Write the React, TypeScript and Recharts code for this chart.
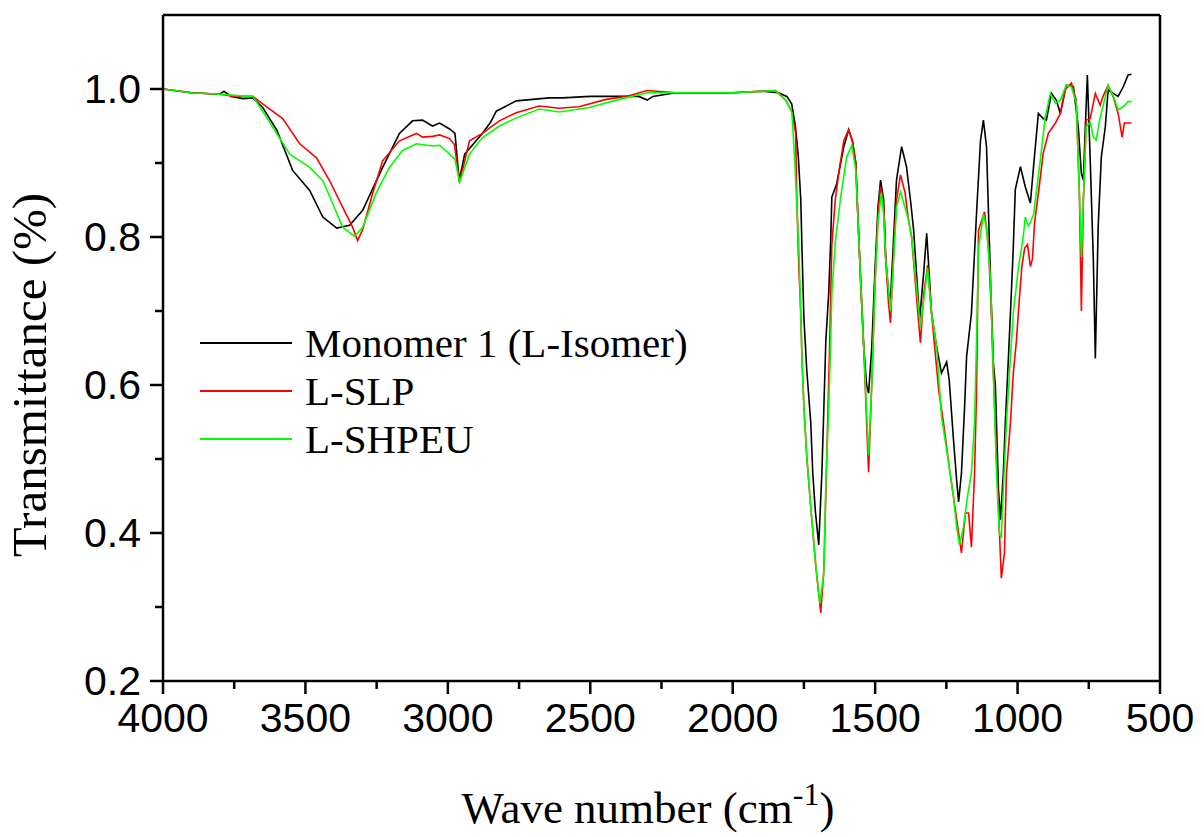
import { LineChart, Line, XAxis, YAxis, Legend, ReferenceLine } from "recharts"

// FTIR spectra, [wave number (cm-1), transmittance]
const MONOMER: [number, number][] = [
  [4000, 1.0], [3900, 0.995], [3800, 0.993], [3786, 0.997], [3760, 0.99], [3720, 0.987],
  [3685, 0.988], [3650, 0.975], [3600, 0.944], [3545, 0.89], [3485, 0.863], [3439, 0.827],
  [3390, 0.812], [3345, 0.816], [3299, 0.836], [3229, 0.894], [3170, 0.94], [3124, 0.957],
  [3089, 0.958], [3054, 0.95], [3029, 0.954], [2994, 0.946], [2975, 0.94], [2960, 0.876],
  [2941, 0.912], [2879, 0.94], [2850, 0.955], [2830, 0.97], [2760, 0.984], [2644, 0.988],
  [2598, 0.988], [2500, 0.99], [2330, 0.99], [2300, 0.985], [2280, 0.99], [2200, 0.995],
  [2000, 0.995], [1900, 0.997], [1840, 0.995], [1810, 0.99], [1793, 0.98], [1780, 0.95],
  [1770, 0.91], [1761, 0.85], [1757, 0.786], [1750, 0.69], [1740, 0.62], [1726, 0.549],
  [1719, 0.481], [1710, 0.43], [1698, 0.384], [1687, 0.481], [1680, 0.57], [1673, 0.661],
  [1663, 0.724], [1656, 0.796], [1652, 0.854], [1635, 0.872], [1610, 0.922], [1593, 0.945],
  [1580, 0.93], [1568, 0.9], [1561, 0.832], [1551, 0.742], [1540, 0.651], [1530, 0.6],
  [1523, 0.589], [1512, 0.65], [1500, 0.76], [1490, 0.84], [1481, 0.877], [1470, 0.85],
  [1463, 0.773], [1453, 0.724], [1446, 0.715], [1435, 0.8], [1425, 0.877], [1407, 0.922],
  [1390, 0.895], [1376, 0.85], [1365, 0.81], [1344, 0.688], [1330, 0.75], [1319, 0.805],
  [1302, 0.697], [1284, 0.651], [1267, 0.616], [1249, 0.631], [1240, 0.607], [1225, 0.526],
  [1214, 0.472], [1207, 0.442], [1197, 0.481], [1186, 0.57], [1179, 0.638], [1162, 0.697],
  [1144, 0.832], [1130, 0.931], [1120, 0.958], [1109, 0.922], [1102, 0.832], [1095, 0.742],
  [1085, 0.63], [1078, 0.6], [1067, 0.458], [1060, 0.418], [1050, 0.481], [1043, 0.549],
  [1032, 0.638], [1025, 0.697], [1015, 0.786], [1008, 0.864], [990, 0.895], [973, 0.868],
  [955, 0.846], [944, 0.895], [927, 0.967], [910, 0.96], [899, 0.958], [881, 0.994],
  [864, 0.985], [850, 0.967], [829, 1.005], [804, 1.003], [787, 0.949], [776, 0.886],
  [769, 0.877], [762, 0.95], [755, 1.019], [745, 0.904], [734, 0.769], [727, 0.636],
  [717, 0.814], [706, 0.908], [692, 0.949], [682, 0.999], [664, 0.994], [647, 0.99],
  [629, 1.003], [612, 1.019], [600, 1.02],
]

const SLP: [number, number][] = [
  [4000, 1.0], [3900, 0.995], [3800, 0.993], [3750, 0.99], [3685, 0.99], [3650, 0.98],
  [3580, 0.96], [3520, 0.926], [3461, 0.907], [3415, 0.876], [3369, 0.84], [3334, 0.813],
  [3317, 0.795], [3299, 0.81], [3264, 0.859], [3229, 0.903], [3170, 0.93], [3110, 0.94],
  [3089, 0.935], [3054, 0.936], [3029, 0.938], [2994, 0.933], [2977, 0.925], [2959, 0.874],
  [2924, 0.93], [2879, 0.94], [2819, 0.957], [2760, 0.968], [2679, 0.977], [2609, 0.974],
  [2540, 0.976], [2444, 0.986], [2374, 0.99], [2301, 0.998], [2200, 0.995], [2000, 0.995],
  [1850, 0.998], [1814, 0.985], [1793, 0.97], [1779, 0.94], [1775, 0.85], [1768, 0.76],
  [1761, 0.697], [1757, 0.638], [1750, 0.57], [1740, 0.503], [1726, 0.435], [1708, 0.354],
  [1691, 0.292], [1680, 0.35], [1670, 0.5], [1660, 0.65], [1652, 0.79], [1640, 0.85],
  [1628, 0.886], [1610, 0.93], [1593, 0.945], [1580, 0.93], [1568, 0.9], [1561, 0.832],
  [1551, 0.742], [1540, 0.651], [1530, 0.55], [1523, 0.482], [1512, 0.6], [1500, 0.74],
  [1490, 0.83], [1481, 0.868], [1470, 0.84], [1463, 0.77], [1453, 0.71], [1446, 0.684],
  [1435, 0.78], [1425, 0.85], [1411, 0.884], [1395, 0.86], [1383, 0.823], [1372, 0.8],
  [1355, 0.72], [1341, 0.657], [1330, 0.72], [1316, 0.762], [1302, 0.697], [1277, 0.593],
  [1260, 0.549], [1242, 0.495], [1225, 0.449], [1207, 0.4], [1197, 0.373], [1183, 0.427],
  [1172, 0.427], [1162, 0.381], [1151, 0.481], [1144, 0.593], [1137, 0.809], [1116, 0.834],
  [1102, 0.786], [1092, 0.697], [1085, 0.616], [1074, 0.503], [1065, 0.414], [1057, 0.339],
  [1046, 0.373], [1039, 0.481], [1025, 0.549], [1015, 0.616], [1004, 0.66], [995, 0.71],
  [985, 0.76], [975, 0.785], [965, 0.79], [955, 0.76], [948, 0.77], [940, 0.82],
  [927, 0.859], [910, 0.913], [892, 0.94], [867, 0.954], [850, 0.967], [833, 0.999],
  [811, 1.008], [794, 0.985], [783, 0.859], [776, 0.7], [769, 0.85], [759, 0.958],
  [745, 0.96], [727, 0.994], [710, 0.978], [700, 0.99], [682, 1.005], [664, 0.989],
  [647, 0.967], [633, 0.935], [625, 0.954], [612, 0.954], [600, 0.954],
]

const SHPEU: [number, number][] = [
  [4000, 1.0], [3900, 0.995], [3800, 0.993], [3700, 0.99], [3685, 0.99], [3650, 0.97],
  [3601, 0.94], [3555, 0.912], [3485, 0.894], [3439, 0.876], [3404, 0.845], [3369, 0.813],
  [3328, 0.801], [3299, 0.813], [3252, 0.859], [3205, 0.894], [3159, 0.917], [3110, 0.926],
  [3054, 0.923], [3029, 0.924], [2994, 0.912], [2975, 0.905], [2959, 0.874], [2924, 0.912],
  [2879, 0.934], [2819, 0.95], [2760, 0.961], [2679, 0.973], [2609, 0.969], [2504, 0.975],
  [2388, 0.987], [2300, 0.995], [2200, 0.995], [2000, 0.995], [1850, 0.998], [1814, 0.985],
  [1792, 0.968], [1782, 0.9], [1768, 0.786], [1761, 0.697], [1757, 0.638], [1750, 0.57],
  [1740, 0.503], [1726, 0.435], [1708, 0.354], [1694, 0.305], [1680, 0.346], [1673, 0.468],
  [1663, 0.57], [1656, 0.661], [1652, 0.724], [1639, 0.796], [1621, 0.854], [1600, 0.908],
  [1582, 0.924], [1568, 0.89], [1561, 0.832], [1551, 0.742], [1540, 0.651], [1523, 0.505],
  [1512, 0.6], [1500, 0.74], [1490, 0.82], [1478, 0.86], [1470, 0.83], [1463, 0.77],
  [1446, 0.7], [1435, 0.77], [1425, 0.84], [1411, 0.861], [1395, 0.84], [1383, 0.823],
  [1372, 0.8], [1341, 0.678], [1316, 0.758], [1302, 0.697], [1284, 0.651], [1267, 0.557],
  [1242, 0.495], [1225, 0.449], [1214, 0.408], [1204, 0.384], [1190, 0.408], [1176, 0.449],
  [1162, 0.481], [1151, 0.549], [1144, 0.661], [1137, 0.786], [1120, 0.83], [1109, 0.814],
  [1095, 0.742], [1088, 0.651], [1081, 0.57], [1074, 0.481], [1064, 0.4], [1057, 0.393],
  [1050, 0.458], [1039, 0.549], [1025, 0.638], [1015, 0.697], [997, 0.759], [980, 0.8],
  [973, 0.827], [962, 0.815], [955, 0.82], [944, 0.83], [920, 0.904], [903, 0.962],
  [885, 0.994], [867, 0.981], [850, 0.985], [829, 1.005], [811, 1.003], [794, 0.981],
  [783, 0.859], [776, 0.773], [769, 0.85], [759, 0.949], [745, 0.955], [734, 0.935],
  [724, 0.931], [712, 0.958], [682, 1.005], [664, 0.99], [647, 0.972], [629, 0.976],
  [612, 0.983], [600, 0.983],
]

const SERIES = [
  { name: "Monomer 1 (L-Isomer)", points: MONOMER, color: "#000000" },
  { name: "L-SLP", points: SLP, color: "#ff0000" },
  { name: "L-SHPEU", points: SHPEU, color: "#00ff00" },
]

const X_TICKS = [4000, 3750, 3500, 3250, 3000, 2750, 2500, 2250, 2000, 1750, 1500, 1250, 1000, 750, 500]
const Y_TICKS = [0.2, 0.3, 0.4, 0.5, 0.6, 0.7, 0.8, 0.9, 1.0]

const SANS = "'Liberation Sans', Arial, sans-serif"
const SERIF = "'Liberation Serif', 'Times New Roman', serif"

function XTick({ x, y, payload }: any) {
  const major = payload.value % 500 === 0
  return (
    <g>
      <line x1={x} x2={x} y1={y} y2={y + (major ? 13 : 8)} stroke="#000" strokeWidth={2.5} />
      {major && (
        <text x={x} y={y + 51} textAnchor="middle" fontFamily={SANS} fontSize={41} fill="#000">
          {payload.value}
        </text>
      )}
    </g>
  )
}

function YTick({ x, y, payload }: any) {
  const major = Math.round(payload.value * 10) % 2 === 0
  return (
    <g>
      <line x1={x} x2={x - (major ? 13 : 8)} y1={y} y2={y} stroke="#000" strokeWidth={2.5} />
      {major && (
        <text x={x - 22} y={y + 14} textAnchor="end" fontFamily={SANS} fontSize={41} fill="#000">
          {payload.value.toFixed(1)}
        </text>
      )}
    </g>
  )
}

function renderLegend() {
  return (
    <div style={{ display: "flex", flexDirection: "column" }}>
      {SERIES.map(s => (
        <div key={s.name} style={{ display: "flex", alignItems: "center", height: 48 }}>
          <div style={{ width: 92, height: 1.6, background: s.color }} />
          <span style={{ marginLeft: 13, fontFamily: SERIF, fontSize: 41, color: "#000", whiteSpace: "nowrap" }}>
            {s.name}
          </span>
        </div>
      ))}
    </div>
  )
}

export default function App() {
  return (
    <div style={{ position: "absolute", left: 0, top: 0, background: "#fff" }}>
      <LineChart width={1204} height={837} margin={{ top: 15, right: 44, bottom: 0, left: 0 }}>
        <XAxis
          dataKey="w"
          type="number"
          domain={[500, 4000]}
          reversed
          ticks={X_TICKS}
          interval={0}
          allowDataOverflow
          height={156}
          tickSize={0}
          tickMargin={0}
          tick={<XTick />}
          axisLine={{ stroke: "#000", strokeWidth: 2.5 }}
          label={() => (
            <text x={648} y={823} textAnchor="middle" fontFamily={SERIF} fontSize={45} fill="#000">
              Wave number (cm
              <tspan dy={-18} fontSize={32}>-1</tspan>
              <tspan dy={18}>)</tspan>
            </text>
          )}
        />
        <YAxis
          type="number"
          domain={[0.2, 1.1]}
          ticks={Y_TICKS}
          interval={0}
          allowDataOverflow
          width={163}
          tickSize={0}
          tickMargin={0}
          tick={<YTick />}
          axisLine={{ stroke: "#000", strokeWidth: 2.5 }}
          label={() => (
            <text x={46} y={375} transform="rotate(-90 46 375)" textAnchor="middle" fontFamily={SERIF} fontSize={49} fill="#000">
              Transmittance (%)
            </text>
          )}
        />
        <ReferenceLine y={1.1} stroke="#000" strokeWidth={2.5} />
        <ReferenceLine x={500} stroke="#000" strokeWidth={2.5} />
        {SERIES.map(s => (
          <Line
            key={s.name}
            name={s.name}
            data={s.points.map(([w, t]) => ({ w, t }))}
            dataKey="t"
            type="linear"
            stroke={s.color}
            strokeWidth={1.6}
            dot={false}
            activeDot={false}
            isAnimationActive={false}
          />
        ))}
        <Legend
          layout="horizontal"
          verticalAlign="middle"
          align="center"
          content={renderLegend}
          wrapperStyle={{ left: 200, top: 319, width: "auto" }}
        />
      </LineChart>
    </div>
  )
}
